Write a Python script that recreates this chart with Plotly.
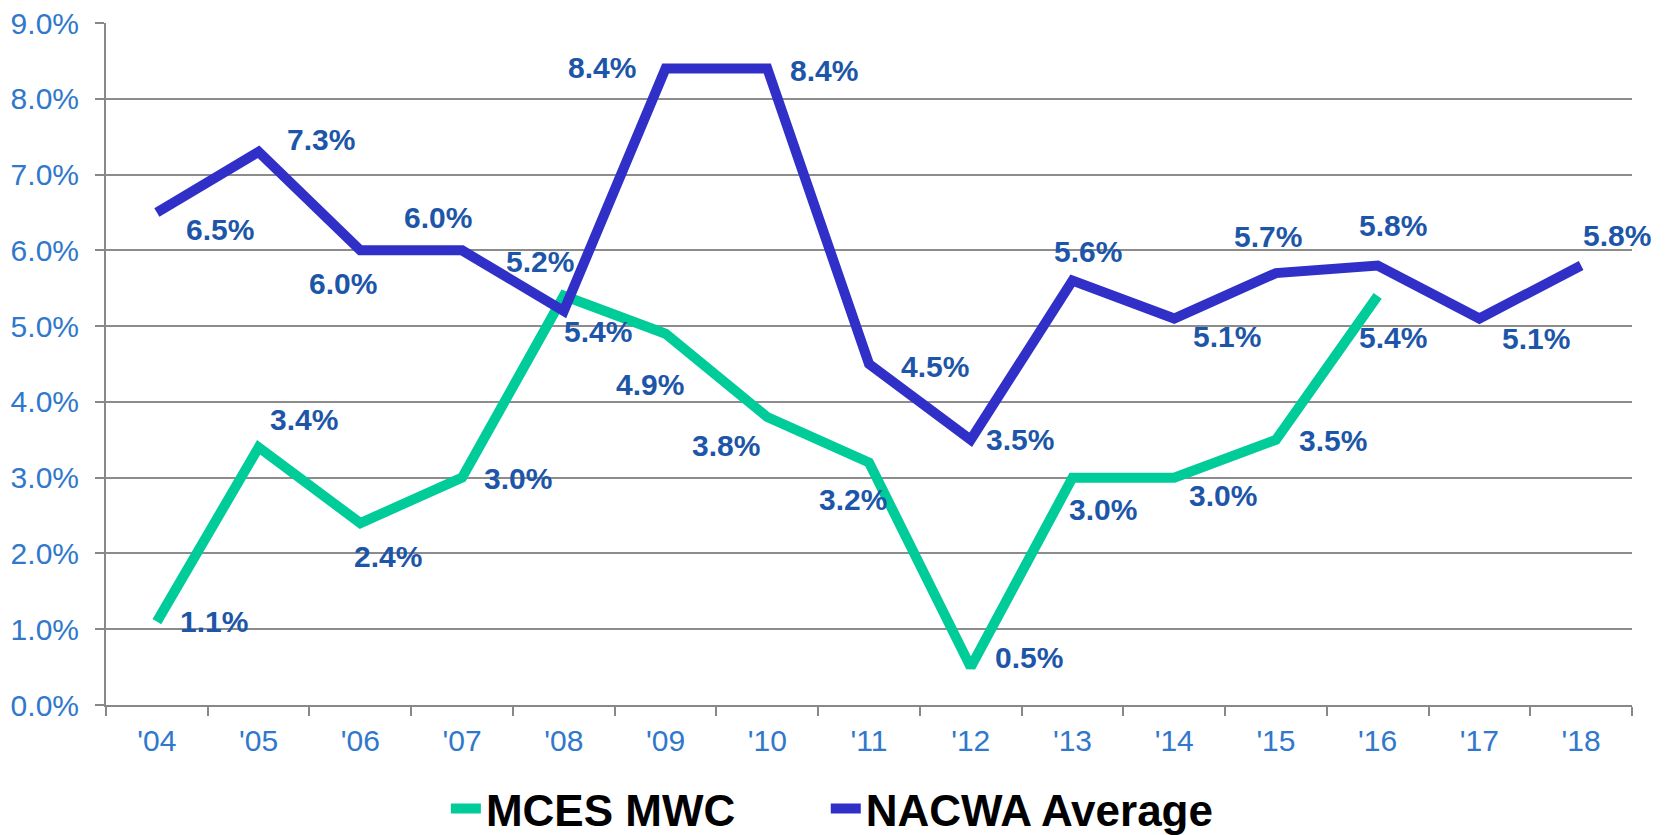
import plotly.graph_objects as go

years = ["'04", "'05", "'06", "'07", "'08", "'09", "'10", "'11", "'12", "'13", "'14", "'15", "'16", "'17", "'18"]
mces = [1.1, 3.4, 2.4, 3.0, 5.4, 4.9, 3.8, 3.2, 0.5, 3.0, 3.0, 3.5, 5.4]
nacwa = [6.5, 7.3, 6.0, 6.0, 5.2, 8.4, 8.4, 4.5, 3.5, 5.6, 5.1, 5.7, 5.8, 5.1, 5.8]
y_ticks = [0, 1, 2, 3, 4, 5, 6, 7, 8, 9]

# label offsets in pixels (dx right, dy down) -- styling only
nacwa_off = [(63, 17), (62, -12), (-17, 33), (-24, -33), (-24, -49), (-64, -1), (57, 2),
             (66, 2), (49, 0), (16, -29), (53, 18), (-8, -37), (15, -40), (57, 20), (36, -30)]
mces_off = [(57, 0), (45, -28), (28, 33), (56, 1), (34, 36), (-16, 51), (-41, 28),
            (-16, 37), (58, -10), (31, 32), (49, 18), (57, 1), (15, 42)]

GREEN = "#00CC99"
BLUE = "#3030C8"
LABEL = "#1D56A8"
TICK = "#2F78CC"
FONT = "Liberation Sans, Arial"
PAD = "\u00a0" * 7

fig = go.Figure()
fig.add_trace(go.Scatter(x=years[:len(mces)], y=mces, mode="lines", name="<b>MCES MWC</b>" + PAD,
                         line=dict(color=GREEN, width=10), cliponaxis=False))
fig.add_trace(go.Scatter(x=years, y=nacwa, mode="lines", name="<b>NACWA Average</b>",
                         line=dict(color=BLUE, width=10), cliponaxis=False))

annotations = []
for series, offs in ((nacwa, nacwa_off), (mces, mces_off)):
    for i, v in enumerate(series):
        dx, dy = offs[i]
        annotations.append(dict(x=years[i], y=v, xref="x", yref="y", text=f"<b>{v:.1f}%</b>",
                                showarrow=False, xshift=dx, yshift=-dy,
                                font=dict(family=FONT, size=30, color=LABEL)))

fig.update_layout(
    width=1665, height=835,
    margin=dict(l=98, r=41, t=15, b=138, autoexpand=False),
    paper_bgcolor="white", plot_bgcolor="white",
    showlegend=True,
    legend=dict(orientation="h", x=0.476, xanchor="center", y=-0.1525, yanchor="middle",
                font=dict(family=FONT, size=44, color="black"),
                itemwidth=30),
    annotations=annotations,
    font=dict(family=FONT),
)
fig.update_xaxes(type="category", categoryorder="array", categoryarray=years,
                 range=[-0.5, len(years) - 0.5], tickson="boundaries",
                 ticks="outside", ticklen=9, tickcolor="#888888", tickwidth=2,
                 showline=True, linecolor="#888888", linewidth=2, showgrid=False,
                 tickfont=dict(family=FONT, size=30, color=TICK), ticklabelstandoff=8,
                 automargin=False, ticklabeloverflow="allow")
fig.update_yaxes(range=[0, 9], tickvals=y_ticks, ticktext=[f"{t:.1f}%" for t in y_ticks],
                 ticks="outside", ticklen=9, tickcolor="#888888", tickwidth=2,
                 showline=True, linecolor="#888888", linewidth=2,
                 showgrid=True, gridcolor="#8C8C8C", gridwidth=2, zeroline=False,
                 tickfont=dict(family=FONT, size=30, color=TICK), automargin=False,
                 ticklabelstandoff=10, ticklabeloverflow="allow")

fig.write_html("out.html")
